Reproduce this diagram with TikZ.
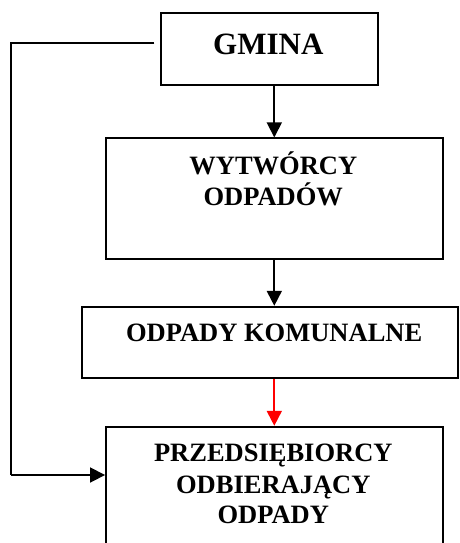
\documentclass[tikz,border=0pt]{standalone}
\usepackage{fontspec}
\setmainfont{Liberation Serif}
\usetikzlibrary{arrows.meta}
\tikzset{
  box/.style={draw=black, line width=1.8pt, fill=white, inner sep=0pt},
  lbl/.style={anchor=base, inner sep=0pt, font=\bfseries\fontsize{26.5}{31}\selectfont},
  big/.style={anchor=base, inner sep=0pt, font=\bfseries\fontsize{31}{31}\selectfont},
  conn/.style={line width=1.8pt, -{Triangle[length=15pt,width=15pt]}},
  plain/.style={line width=1.8pt}
}
\begin{document}
\begin{tikzpicture}[x=1pt,y=-1pt]
\useasboundingbox (0,0) rectangle (459,543);
\clip (0,0) rectangle (459,543);
\fill[white] (0,0) rectangle (459,543);
% boxes
\node[box, minimum width=217pt, minimum height=72pt] (gmina) at (269.2,49) {};
\node[box, minimum width=336.7pt, minimum height=120.4pt] (wyt) at (274.3,198.5) {};
\node[box, minimum width=375.7pt, minimum height=71.6pt] (kom) at (270.2,342.5) {};
\node[box, minimum width=336.7pt, minimum height=153pt] (prz) at (274.3,503.2) {};
% texts
\node[big] (tg) at (268.3,55) {GMINA};
\node[lbl] (tw1) at (273.3,174) {WYTWÓRCY};
\node[lbl] (tw2) at (273.3,205) {ODPADÓW};
\node[lbl] (tk) at (274.2,341.7) {ODPADY KOMUNALNE};
\node[lbl] (tp1) at (273.3,461.7) {PRZEDSIĘBIORCY};
\node[lbl] (tp2) at (273.3,493) {ODBIERAJĄCY};
\node[lbl] (tp3) at (273.3,523.3) {ODPADY};
% connectors
\draw[conn] (wyt.north |- gmina.south) -- (wyt.north);
\draw[conn] (wyt.south) -- (wyt.south |- kom.north);
\draw[conn, red] (prz.north |- kom.south) -- (prz.north);
\coordinate (s) at ([xshift=-5.5pt,yshift=6.3pt]gmina.west);
\coordinate (c1) at (10.7,42.7);
\coordinate (c2) at (10.7,475);
\draw[plain] (s) -- (c1) -- (c2);
\draw[conn] (c2) -- (prz.west |- c2);
\end{tikzpicture}
\end{document}
